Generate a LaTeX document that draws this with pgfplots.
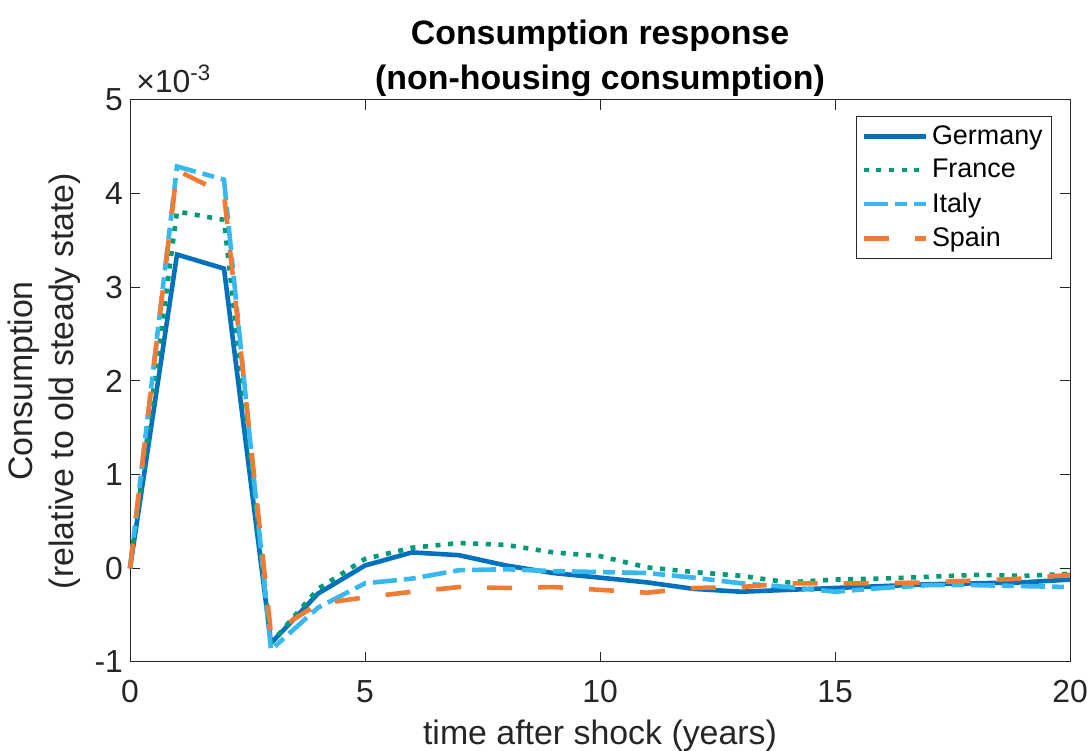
\documentclass[border=0pt]{standalone}
\usepackage{pgfplots}
\pgfplotsset{compat=1.18}
\usepackage{pgfplotstable}
\usepackage{fontspec}
\setmainfont{Liberation Sans}

\definecolor{cGer}{HTML}{0072BD}
\definecolor{cFra}{HTML}{009A78}
\definecolor{cIta}{HTML}{38B8EE}
\definecolor{cSpa}{HTML}{F07B35}
\definecolor{axgray}{HTML}{262626}

% consumption responses, in units of 1e-3
\pgfplotstableread{
t ger fra ita spa
0 0 0 0 0
1 3.35 3.81 4.29 4.25
2 3.20 3.72 4.15 4.00
3 -0.80 -0.80 -0.87 -0.70
4 -0.27 -0.22 -0.42 -0.38
5 0.03 0.10 -0.16 -0.31
6 0.17 0.22 -0.11 -0.25
7 0.14 0.27 -0.02 -0.20
8 0.03 0.25 -0.01 -0.21
9 -0.05 0.17 -0.03 -0.20
10 -0.10 0.13 -0.04 -0.23
11 -0.15 0.01 -0.05 -0.26
12 -0.22 -0.04 -0.10 -0.21
13 -0.25 -0.08 -0.16 -0.20
14 -0.23 -0.15 -0.20 -0.16
15 -0.21 -0.12 -0.25 -0.16
16 -0.19 -0.11 -0.21 -0.16
17 -0.17 -0.09 -0.18 -0.15
18 -0.16 -0.07 -0.18 -0.13
19 -0.15 -0.08 -0.19 -0.11
20 -0.12 -0.06 -0.20 -0.07
}\resp

\begin{document}
\begin{tikzpicture}
\begin{axis}[
  name=ax,
  scale only axis, width=470bp, height=281bp,
  xmin=0, xmax=20, ymin=-1, ymax=5,
  xtick={0,5,10,15,20}, xticklabels={0,5,10,15,20},
  ytick={-1,0,1,2,3,4,5}, yticklabels={-1,0,1,2,3,4,5},
  tick align=inside, major tick length=5bp,
  axis line style={axgray, line width=0.5bp},
  tick style={axgray, line width=0.5bp},
  ticklabel style={font=\fontsize{16}{18}\selectfont, text=axgray},
  xticklabel style={anchor=base, yshift=-20.5bp},
  xlabel={time after shock (years)},
  xlabel style={at={(rel axis cs:0.5,0)}, anchor=base, yshift=-41.5bp},
  ylabel={Consumption\\(relative to old steady state)},
  label style={font=\fontsize{17}{21}\selectfont, text=axgray, align=center},
  title={Consumption response\\(non-housing consumption)},
  title style={font=\bfseries\fontsize{17}{22.5}\selectfont, align=center, yshift=-8bp},
  legend style={at={(0.981,0.9715)}, anchor=north east, draw=axgray,
    line width=0.5bp, font=\fontsize{13.5}{16}\selectfont, inner sep=2.5bp,
    row sep=2bp, cells={anchor=west}},
  legend image code/.code={\draw[#1] (0bp,0bp) -- (31bp,0bp);},
  clip=false,
]
\addplot[cGer, line width=2.3bp] table[x=t, y=ger] {\resp};
\addlegendentry{Germany}
\addplot[cFra, line width=2.3bp, dash pattern=on 2.5bp off 3.8bp] table[x=t, y=fra] {\resp};
\addlegendentry{France}
\addplot[cIta, line width=2.3bp, dash pattern=on 12bp off 3.5bp on 6bp off 3.5bp] table[x=t, y=ita] {\resp};
\addlegendentry{Italy}
\addplot[cSpa, line width=2.3bp, dash pattern=on 12.5bp off 13bp] table[x=t, y=spa] {\resp};
\addlegendentry{Spain}
\node[anchor=base west, font=\fontsize{16}{18}\selectfont, text=axgray, inner sep=0pt]
  at ([xshift=3bp, yshift=3.5bp]rel axis cs:0,1) {×10\textsuperscript{-3}};
\end{axis}
% page frame: fixed margins around the axis box
\pgfresetboundingbox
\useasboundingbox ([shift={(-65bp,-44.5bp)}]ax.south west) rectangle ([shift={(9bp,50bp)}]ax.north east);
\end{tikzpicture}
\end{document}
